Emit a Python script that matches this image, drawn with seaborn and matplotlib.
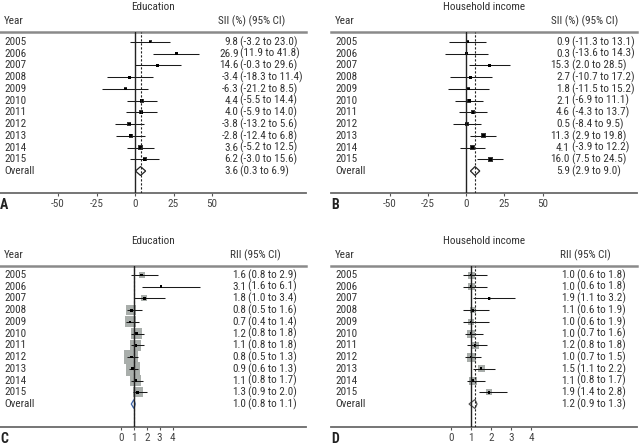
import numpy as np
import pandas as pd
import matplotlib
matplotlib.use("Agg")
import matplotlib.pyplot as plt
import seaborn as sns

# ---------------- data ----------------
years = ["2005", "2006", "2007", "2008", "2009", "2010", "2011", "2012", "2013", "2014", "2015"]

edu_sii = [9.8, 26.9, 14.6, -3.4, -6.3, 4.4, 4.0, -3.8, -2.8, 3.6, 6.2]
edu_sii_lo = [-3.2, 11.9, -0.3, -18.3, -21.2, -5.5, -5.9, -13.2, -12.4, -5.2, -3.0]
edu_sii_hi = [23.0, 41.8, 29.6, 11.4, 8.5, 14.4, 14.0, 5.6, 6.8, 12.5, 15.6]
edu_sii_overall = [3.6, 0.3, 6.9]

inc_sii = [0.9, 0.3, 15.3, 2.7, 1.8, 2.1, 4.6, 0.5, 11.3, 4.1, 16.0]
inc_sii_lo = [-11.3, -13.6, 2.0, -10.7, -11.5, -6.9, -4.3, -8.4, 2.9, -3.9, 7.5]
inc_sii_hi = [13.1, 14.3, 28.5, 17.2, 15.2, 11.1, 13.7, 9.5, 19.8, 12.2, 24.5]
inc_sii_overall = [5.9, 2.9, 9.0]

edu_rii = [1.6, 3.1, 1.8, 0.8, 0.7, 1.2, 1.1, 0.8, 0.9, 1.1, 1.3]
edu_rii_lo = [0.8, 1.6, 1.0, 0.5, 0.4, 0.8, 0.8, 0.5, 0.6, 0.8, 0.9]
edu_rii_hi = [2.9, 6.1, 3.4, 1.6, 1.4, 1.8, 1.8, 1.3, 1.3, 1.7, 2.0]
edu_rii_overall = [1.0, 0.8, 1.1]

inc_rii = [1.0, 1.0, 1.9, 1.1, 1.0, 1.0, 1.2, 1.0, 1.5, 1.1, 1.9]
inc_rii_lo = [0.6, 0.6, 1.1, 0.6, 0.6, 0.7, 0.8, 0.7, 1.1, 0.8, 1.4]
inc_rii_hi = [1.8, 1.8, 3.2, 1.9, 1.9, 1.6, 1.8, 1.5, 2.2, 1.7, 2.8]
inc_rii_overall = [1.2, 0.9, 1.3]

# study weight box sizes (relative)
w_edu_sii = [3, 3, 3, 3, 3, 4, 4, 4, 4, 5, 4]
w_inc_sii = [3, 3, 3, 3, 3, 4, 4, 4, 5, 5, 5]
w_edu_rii = [6, 2, 6, 10, 11, 11, 11, 14, 14, 11, 10]
w_inc_rii = [7, 7, 3, 6, 6, 8, 7, 9, 7, 8, 6]

sii_ticks = [-50, -25, 0, 25, 50]
rii_ticks = [0, 1, 2, 3, 4]

# ---------------- style ----------------
sns.set_theme(style="white")
plt.rcParams["font.family"] = ["Liberation Sans Narrow", "Roboto Condensed", "Roboto", "DejaVu Sans"]

W, H = 644, 448
fig = plt.figure(figsize=(W / 100, H / 100), dpi=100)
TXT = "#333333"
FS = 8.0


def fmt(v):
    return f"{v:.1f}"


def panel(L, R, T, B, row0, x0, ppu, null, est, lo, hi, ov, wts, box_color,
          ticks, title, header, hdr_right, est_right, letter, diam_edge):
    sp = 11.73
    ax = fig.add_axes([L / W, 1 - B / H, (R - L) / W, (B - T) / H])
    ax.set_xlim((L - x0) / ppu, (R - x0) / ppu)
    ax.set_ylim((B - row0) / sp, (T - row0) / sp)
    rows = np.arange(len(years))
    df = pd.DataFrame({"year": years, "est": est, "lo": lo, "hi": hi,
                       "row": rows, "box": [(b * 0.72) ** 2 for b in wts]})

    # boxes
    sns.scatterplot(data=df, x="est", y="row", marker="s", s=df["box"].values,
                    color=box_color, edgecolor="none", linewidth=0, ax=ax,
                    legend=False, zorder=2)
    # CI lines
    ax.hlines(df["row"], df["lo"], df["hi"], color="#1a1a1a", lw=0.75, zorder=3)
    # centre points
    sns.scatterplot(data=df, x="est", y="row", marker="s", s=4,
                    color="#000000", edgecolor="none", linewidth=0, ax=ax,
                    legend=False, zorder=4)
    # overall diamond
    e, l, h = ov
    r = len(years)
    dh = 0.38
    ax.fill([l, e, h, e], [r, r - dh, r, r + dh], facecolor="white",
            edgecolor=diam_edge, lw=0.9, zorder=5)
    # reference lines
    ax.axvline(null, color="#222222", lw=1.0, zorder=6)
    ax.axvline(e, color="#222222", lw=0.8, ls=(0, (2, 1.6)), zorder=6)

    # spines / ticks
    for s in ["left", "right"]:
        ax.spines[s].set_visible(False)
    ax.spines["top"].set_color("#8a8a8a")
    ax.spines["top"].set_linewidth(1.8)
    ax.spines["bottom"].set_color("#6a6a6a")
    ax.spines["bottom"].set_linewidth(1.3)
    ax.set_yticks([])
    ax.set_xticks(ticks)
    ax.set_xticklabels([str(t) for t in ticks])
    ax.tick_params(axis="x", direction="out", length=2.2, width=0.8,
                   color="#555555", labelsize=FS, labelcolor="#444444", pad=2.3,
                   bottom=True)
    ax.set_xlabel("")
    ax.set_ylabel("")

    tr = ax.get_yaxis_transform()

    def fx(px):
        return (px - L) / (R - L)

    def fy(py):
        return (py - row0) / sp

    # row labels and values
    for i in range(len(years)):
        ax.text(fx(L + 4), i, years[i], transform=tr, ha="left", va="center",
                fontsize=FS, color=TXT, clip_on=False)
        ax.text(fx(est_right), i, fmt(est[i]), transform=tr, ha="right",
                va="center", fontsize=FS, color=TXT, clip_on=False)
        ax.text(fx(est_right + 1.5), i, f"({fmt(lo[i])} to {fmt(hi[i])})",
                transform=tr, ha="left", va="center", fontsize=FS, color=TXT,
                clip_on=False)
    ax.text(fx(L + 4), r, "Overall", transform=tr, ha="left", va="center",
            fontsize=FS, color=TXT, clip_on=False)
    ax.text(fx(est_right), r, fmt(e), transform=tr, ha="right", va="center",
            fontsize=FS, color=TXT, clip_on=False)
    ax.text(fx(est_right + 1.5), r, f"({fmt(l)} to {fmt(h)})", transform=tr,
            ha="left", va="center", fontsize=FS, color=TXT, clip_on=False)

    # headers
    ax.text(fx(L + 4), fy(T - 11), "Year", transform=tr, ha="left",
            va="center", fontsize=FS, color=TXT, clip_on=False)
    ax.text(fx(hdr_right), fy(T - 11), header, transform=tr, ha="right",
            va="center", fontsize=FS, color=TXT, clip_on=False)
    ax.text(fx(L + 153), fy(T - 25), title, transform=tr, ha="center",
            va="center", fontsize=FS, color=TXT, clip_on=False)
    ax.text(fx(L), fy(B + 12), letter, transform=tr, ha="left", va="center",
            fontsize=10, fontweight="bold", color="#222222", clip_on=False)
    return ax


panel(0, 306, 32, 193, 42, 135, 1.54, 0, edu_sii, edu_sii_lo, edu_sii_hi,
      edu_sii_overall, w_edu_sii, "#3a3a3a", sii_ticks, "Education",
      "SII (%) (95% CI)", 285, 238.5, "A", "#222222")
panel(331, 637, 32, 193, 42, 466, 1.53, 0, inc_sii, inc_sii_lo, inc_sii_hi,
      inc_sii_overall, w_inc_sii, "#3a3a3a", sii_ticks, "Household income",
      "SII (%) (95% CI)", 618, 570, "B", "#222222")
panel(0, 306, 266, 427, 275, 121, 12.9, 1, edu_rii, edu_rii_lo, edu_rii_hi,
      edu_rii_overall, w_edu_rii, "#a9aeab", rii_ticks, "Education",
      "RII (95% CI)", 281, 246, "C", "#3b63a8")
panel(331, 637, 266, 427, 275, 451, 20.0, 1, inc_rii, inc_rii_lo, inc_rii_hi,
      inc_rii_overall, w_inc_rii, "#a9aeab", rii_ticks, "Household income",
      "RII (95% CI)", 611, 575.5, "D", "#555555")

fig.savefig("out.png", dpi=100, facecolor="white")
